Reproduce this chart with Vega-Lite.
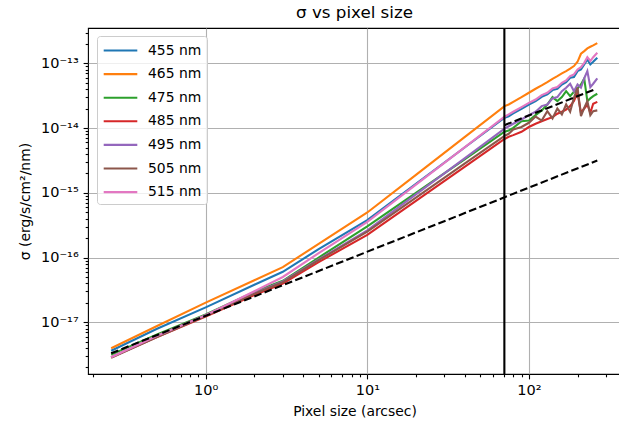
{
"$schema": "https://vega.github.io/schema/vega-lite/v6.json",
"width": 533, "height": 346,
"autosize": {"type": "none"},
"padding": {"left": 88, "top": 28, "right": 0, "bottom": 57},
"background": "white",
"title": {"text": "σ vs pixel size", "font": "DejaVu Sans", "fontSize": 16.7, "fontWeight": "normal", "color": "black", "anchor": "middle", "offset": 3},
"config": {
  "view": {"stroke": "black", "strokeWidth": 1.1},
  "axis": {"domain": false, "tickColor": "black", "tickWidth": 1.1, "gridColor": "#b0b0b0", "gridWidth": 1.1,
    "labelFont": "DejaVu Sans", "labelFontSize": 14.5, "labelColor": "black", "labelPadding": 4.9, "labelOverlap": false, "labelFlush": false,
    "titleFont": "DejaVu Sans", "titleFontSize": 13.9, "titleFontWeight": "normal", "titleColor": "black"}
},
"datasets": {
"curves": [
{"band":"455 nm","px":0.26,"sigma":3.63e-18},{"band":"455 nm","px":0.5,"sigma":7.94e-18},{"band":"455 nm","px":1,"sigma":1.70e-17},{"band":"455 nm","px":2,"sigma":3.80e-17},{"band":"455 nm","px":3,"sigma":6.03e-17},{"band":"455 nm","px":5,"sigma":1.35e-16},{"band":"455 nm","px":10,"sigma":3.80e-16},{"band":"455 nm","px":20,"sigma":1.38e-15},{"band":"455 nm","px":40,"sigma":5.02e-15},{"band":"455 nm","px":70.7,"sigma":1.45e-14},
{"band":"455 nm","px":75,"sigma":1.53e-14},{"band":"455 nm","px":80,"sigma":1.69e-14},{"band":"455 nm","px":90,"sigma":1.99e-14},{"band":"455 nm","px":100,"sigma":2.32e-14},{"band":"455 nm","px":110,"sigma":2.62e-14},{"band":"455 nm","px":120,"sigma":3.05e-14},{"band":"455 nm","px":130,"sigma":3.32e-14},{"band":"455 nm","px":140,"sigma":3.87e-14},{"band":"455 nm","px":150,"sigma":4.06e-14},{"band":"455 nm","px":160,"sigma":4.73e-14},{"band":"455 nm","px":170,"sigma":5.14e-14},{"band":"455 nm","px":180,"sigma":6.00e-14},{"band":"455 nm","px":190,"sigma":6.15e-14},{"band":"455 nm","px":200,"sigma":7.61e-14},{"band":"455 nm","px":210,"sigma":8.08e-14},{"band":"455 nm","px":220,"sigma":9.65e-14},{"band":"455 nm","px":230,"sigma":1.15e-13},{"band":"455 nm","px":240,"sigma":9.65e-14},{"band":"455 nm","px":250,"sigma":1.06e-13},{"band":"455 nm","px":265,"sigma":1.22e-13},

{"band":"465 nm","px":0.26,"sigma":3.96e-18},{"band":"465 nm","px":0.5,"sigma":8.77e-18},{"band":"465 nm","px":1,"sigma":2.01e-17},{"band":"465 nm","px":2,"sigma":4.46e-17},{"band":"465 nm","px":3,"sigma":7.10e-17},{"band":"465 nm","px":5,"sigma":1.63e-16},{"band":"465 nm","px":10,"sigma":4.97e-16},{"band":"465 nm","px":20,"sigma":1.90e-15},{"band":"465 nm","px":40,"sigma":7.28e-15},{"band":"465 nm","px":70.7,"sigma":2.19e-14},
{"band":"465 nm","px":75,"sigma":2.32e-14},{"band":"465 nm","px":80,"sigma":2.55e-14},{"band":"465 nm","px":90,"sigma":3.01e-14},{"band":"465 nm","px":100,"sigma":3.52e-14},{"band":"465 nm","px":110,"sigma":4.06e-14},{"band":"465 nm","px":120,"sigma":4.57e-14},{"band":"465 nm","px":130,"sigma":5.14e-14},{"band":"465 nm","px":140,"sigma":5.79e-14},{"band":"465 nm","px":150,"sigma":6.37e-14},{"band":"465 nm","px":160,"sigma":7.00e-14},{"band":"465 nm","px":170,"sigma":7.60e-14},{"band":"465 nm","px":180,"sigma":8.28e-14},{"band":"465 nm","px":190,"sigma":9.10e-14},{"band":"465 nm","px":200,"sigma":1.06e-13},{"band":"465 nm","px":210,"sigma":1.41e-13},{"band":"465 nm","px":220,"sigma":1.55e-13},{"band":"465 nm","px":230,"sigma":1.71e-13},{"band":"465 nm","px":240,"sigma":1.81e-13},{"band":"465 nm","px":250,"sigma":1.90e-13},{"band":"465 nm","px":265,"sigma":2.06e-13},

{"band":"475 nm","px":0.26,"sigma":3.16e-18},{"band":"475 nm","px":0.5,"sigma":6.46e-18},{"band":"475 nm","px":1,"sigma":1.32e-17},{"band":"475 nm","px":2,"sigma":2.95e-17},{"band":"475 nm","px":3,"sigma":4.37e-17},{"band":"475 nm","px":5,"sigma":1.00e-16},{"band":"475 nm","px":10,"sigma":3.02e-16},{"band":"475 nm","px":20,"sigma":9.98e-16},{"band":"475 nm","px":40,"sigma":3.30e-15},{"band":"475 nm","px":70.7,"sigma":8.8e-15},
{"band":"475 nm","px":75,"sigma":9.20e-15},{"band":"475 nm","px":80,"sigma":1.01e-14},{"band":"475 nm","px":90,"sigma":1.28e-14},{"band":"475 nm","px":100,"sigma":1.31e-14},{"band":"475 nm","px":110,"sigma":1.59e-14},{"band":"475 nm","px":120,"sigma":1.88e-14},{"band":"475 nm","px":130,"sigma":2.32e-14},{"band":"475 nm","px":140,"sigma":3.02e-14},{"band":"475 nm","px":150,"sigma":2.62e-14},{"band":"475 nm","px":160,"sigma":3.02e-14},{"band":"475 nm","px":170,"sigma":3.73e-14},{"band":"475 nm","px":180,"sigma":3.13e-14},{"band":"475 nm","px":190,"sigma":3.65e-14},{"band":"475 nm","px":200,"sigma":4.10e-14},{"band":"475 nm","px":210,"sigma":4.73e-14},{"band":"475 nm","px":220,"sigma":5.86e-14},{"band":"475 nm","px":230,"sigma":2.62e-14},{"band":"475 nm","px":240,"sigma":2.88e-14},{"band":"475 nm","px":250,"sigma":3.13e-14},{"band":"475 nm","px":265,"sigma":3.40e-14},

{"band":"485 nm","px":0.26,"sigma":2.88e-18},{"band":"485 nm","px":0.5,"sigma":5.89e-18},{"band":"485 nm","px":1,"sigma":1.23e-17},{"band":"485 nm","px":2,"sigma":2.63e-17},{"band":"485 nm","px":3,"sigma":3.98e-17},{"band":"485 nm","px":5,"sigma":8.51e-17},{"band":"485 nm","px":10,"sigma":2.24e-16},{"band":"485 nm","px":20,"sigma":7.52e-16},{"band":"485 nm","px":40,"sigma":2.52e-15},{"band":"485 nm","px":70.7,"sigma":6.8e-15},
{"band":"485 nm","px":75,"sigma":7.35e-15},{"band":"485 nm","px":80,"sigma":7.80e-15},{"band":"485 nm","px":90,"sigma":8.77e-15},{"band":"485 nm","px":100,"sigma":1.04e-14},{"band":"485 nm","px":110,"sigma":1.17e-14},{"band":"485 nm","px":120,"sigma":1.28e-14},{"band":"485 nm","px":130,"sigma":1.38e-14},{"band":"485 nm","px":140,"sigma":1.48e-14},{"band":"485 nm","px":150,"sigma":1.67e-14},{"band":"485 nm","px":160,"sigma":1.79e-14},{"band":"485 nm","px":170,"sigma":1.94e-14},{"band":"485 nm","px":180,"sigma":2.19e-14},{"band":"485 nm","px":190,"sigma":2.62e-14},{"band":"485 nm","px":200,"sigma":3.52e-14},{"band":"485 nm","px":210,"sigma":1.73e-14},{"band":"485 nm","px":220,"sigma":2.01e-14},{"band":"485 nm","px":230,"sigma":2.32e-14},{"band":"485 nm","px":240,"sigma":1.73e-14},{"band":"485 nm","px":250,"sigma":2.38e-14},{"band":"485 nm","px":265,"sigma":2.55e-14},

{"band":"495 nm","px":0.26,"sigma":2.88e-18},{"band":"495 nm","px":0.5,"sigma":6.03e-18},{"band":"495 nm","px":1,"sigma":1.29e-17},{"band":"495 nm","px":2,"sigma":2.82e-17},{"band":"495 nm","px":3,"sigma":4.27e-17},{"band":"495 nm","px":5,"sigma":9.33e-17},{"band":"495 nm","px":10,"sigma":2.63e-16},{"band":"495 nm","px":20,"sigma":9.48e-16},{"band":"495 nm","px":40,"sigma":3.42e-15},{"band":"495 nm","px":70.7,"sigma":9.8e-15},
{"band":"495 nm","px":75,"sigma":1.07e-14},{"band":"495 nm","px":80,"sigma":1.17e-14},{"band":"495 nm","px":90,"sigma":1.36e-14},{"band":"495 nm","px":100,"sigma":1.59e-14},{"band":"495 nm","px":110,"sigma":1.79e-14},{"band":"495 nm","px":120,"sigma":2.19e-14},{"band":"495 nm","px":130,"sigma":2.32e-14},{"band":"495 nm","px":140,"sigma":2.88e-14},{"band":"495 nm","px":150,"sigma":3.02e-14},{"band":"495 nm","px":160,"sigma":3.73e-14},{"band":"495 nm","px":170,"sigma":4.21e-14},{"band":"495 nm","px":180,"sigma":4.85e-14},{"band":"495 nm","px":190,"sigma":3.73e-14},{"band":"495 nm","px":200,"sigma":4.73e-14},{"band":"495 nm","px":210,"sigma":4.21e-14},{"band":"495 nm","px":220,"sigma":5.86e-14},{"band":"495 nm","px":230,"sigma":7.61e-14},{"band":"495 nm","px":240,"sigma":4.31e-14},{"band":"495 nm","px":250,"sigma":4.85e-14},{"band":"495 nm","px":265,"sigma":5.86e-14},

{"band":"505 nm","px":0.26,"sigma":2.82e-18},{"band":"505 nm","px":0.5,"sigma":5.89e-18},{"band":"505 nm","px":1,"sigma":1.26e-17},{"band":"505 nm","px":2,"sigma":2.75e-17},{"band":"505 nm","px":3,"sigma":4.17e-17},{"band":"505 nm","px":5,"sigma":9.12e-17},{"band":"505 nm","px":10,"sigma":2.51e-16},{"band":"505 nm","px":20,"sigma":8.41e-16},{"band":"505 nm","px":40,"sigma":2.82e-15},{"band":"505 nm","px":70.7,"sigma":7.6e-15},
{"band":"505 nm","px":75,"sigma":8.17e-15},{"band":"505 nm","px":80,"sigma":9.54e-15},{"band":"505 nm","px":90,"sigma":1.04e-14},{"band":"505 nm","px":100,"sigma":1.21e-14},{"band":"505 nm","px":110,"sigma":1.51e-14},{"band":"505 nm","px":120,"sigma":1.31e-14},{"band":"505 nm","px":130,"sigma":1.83e-14},{"band":"505 nm","px":140,"sigma":1.41e-14},{"band":"505 nm","px":150,"sigma":2.01e-14},{"band":"505 nm","px":160,"sigma":1.63e-14},{"band":"505 nm","px":170,"sigma":2.32e-14},{"band":"505 nm","px":180,"sigma":1.79e-14},{"band":"505 nm","px":190,"sigma":2.94e-14},{"band":"505 nm","px":200,"sigma":4.21e-14},{"band":"505 nm","px":210,"sigma":1.53e-14},{"band":"505 nm","px":220,"sigma":2.06e-14},{"band":"505 nm","px":230,"sigma":2.62e-14},{"band":"505 nm","px":240,"sigma":1.59e-14},{"band":"505 nm","px":250,"sigma":1.83e-14},{"band":"505 nm","px":265,"sigma":1.88e-14},

{"band":"515 nm","px":0.26,"sigma":2.88e-18},{"band":"515 nm","px":0.5,"sigma":6.17e-18},{"band":"515 nm","px":1,"sigma":1.29e-17},{"band":"515 nm","px":2,"sigma":3.02e-17},{"band":"515 nm","px":3,"sigma":5.01e-17},{"band":"515 nm","px":5,"sigma":1.17e-16},{"band":"515 nm","px":10,"sigma":3.55e-16},{"band":"515 nm","px":20,"sigma":1.34e-15},{"band":"515 nm","px":40,"sigma":5.05e-15},{"band":"515 nm","px":70.7,"sigma":1.50e-14},
{"band":"515 nm","px":75,"sigma":1.63e-14},{"band":"515 nm","px":80,"sigma":1.79e-14},{"band":"515 nm","px":90,"sigma":2.11e-14},{"band":"515 nm","px":100,"sigma":2.46e-14},{"band":"515 nm","px":110,"sigma":2.77e-14},{"band":"515 nm","px":120,"sigma":3.24e-14},{"band":"515 nm","px":130,"sigma":3.52e-14},{"band":"515 nm","px":140,"sigma":4.10e-14},{"band":"515 nm","px":150,"sigma":4.31e-14},{"band":"515 nm","px":160,"sigma":5.02e-14},{"band":"515 nm","px":170,"sigma":5.46e-14},{"band":"515 nm","px":180,"sigma":6.37e-14},{"band":"515 nm","px":190,"sigma":6.76e-14},{"band":"515 nm","px":200,"sigma":8.08e-14},{"band":"515 nm","px":210,"sigma":8.77e-14},{"band":"515 nm","px":220,"sigma":1.02e-13},{"band":"515 nm","px":230,"sigma":1.25e-13},{"band":"515 nm","px":240,"sigma":1.09e-13},{"band":"515 nm","px":250,"sigma":1.25e-13},{"band":"515 nm","px":265,"sigma":1.46e-13}
],
"dashes": [
{"line":"a","px":0.26,"sigma":3.32e-18},{"line":"a","px":265,"sigma":3.16e-15},
{"line":"b","px":70.5,"sigma":1.11e-14},{"line":"b","px":255,"sigma":3.96e-14}
],
"vline": [{"px":70.5}]
},
"layer": [
{
 "data": {"name": "curves"},
 "mark": {"type": "line", "strokeWidth": 2.1, "clip": true},
 "encoding": {
  "x": {"field": "px", "type": "quantitative",
    "scale": {"type": "log", "domain": [0.1869, 371.5], "nice": false, "zero": false},
    "axis": {"title": "Pixel size (arcsec)", "titlePadding": 7,
      "values": [0.2,0.3,0.4,0.5,0.6,0.7,0.8,0.9,1,2,3,4,5,6,7,8,9,10,20,30,40,50,60,70,80,90,100,200,300],
      "labelExpr": "datum.value == 1 ? '10⁰' : datum.value == 10 ? '10¹' : datum.value == 100 ? '10²' : ''",
      "grid": true,
      "tickSize": {"condition": {"test": "indexof([1,10,100], datum.value) >= 0", "value": 4.9}, "value": 2.8},
      "gridOpacity": {"condition": {"test": "indexof([1,10,100], datum.value) >= 0", "value": 1}, "value": 0}}},
  "y": {"field": "sigma", "type": "quantitative",
    "scale": {"type": "log", "domain": [1.586e-18, 3.528e-13], "nice": false, "zero": false},
    "axis": {"title": "σ (erg/s/cm²/nm)", "titlePadding": 8,
      "values": [2e-18,3e-18,4e-18,5e-18,6e-18,7e-18,8e-18,9e-18,1e-17,2e-17,3e-17,4e-17,5e-17,6e-17,7e-17,8e-17,9e-17,1e-16,2e-16,3e-16,4e-16,5e-16,6e-16,7e-16,8e-16,9e-16,1e-15,2e-15,3e-15,4e-15,5e-15,6e-15,7e-15,8e-15,9e-15,1e-14,2e-14,3e-14,4e-14,5e-14,6e-14,7e-14,8e-14,9e-14,1e-13,2e-13,3e-13],
      "labelExpr": "datum.value == 1e-13 ? '10⁻¹³' : datum.value == 1e-14 ? '10⁻¹⁴' : datum.value == 1e-15 ? '10⁻¹⁵' : datum.value == 1e-16 ? '10⁻¹⁶' : datum.value == 1e-17 ? '10⁻¹⁷' : ''",
      "grid": true,
      "tickSize": {"condition": {"test": "indexof([1e-13,1e-14,1e-15,1e-16,1e-17], datum.value) >= 0", "value": 4.9}, "value": 2.8},
      "gridOpacity": {"condition": {"test": "indexof([1e-13,1e-14,1e-15,1e-16,1e-17], datum.value) >= 0", "value": 1}, "value": 0}}},
  "color": {"field": "band", "type": "nominal",
    "scale": {"domain": ["455 nm","465 nm","475 nm","485 nm","495 nm","505 nm","515 nm"], "range": ["#1f77b4","#ff7f0e","#2ca02c","#d62728","#9467bd","#8c564b","#e377c2"]},
    "legend": {"orient": "none", "legendX": 9, "legendY": 8, "title": null,
      "fillColor": "rgba(255,255,255,0.8)", "strokeColor": "#cccccc", "cornerRadius": 3, "padding": 5,
      "symbolType": "M-2.1,0H2.1", "symbolSize": 256, "symbolStrokeWidth": 2.1, "symbolOffset": 9,
      "labelOffset": 18, "labelFont": "DejaVu Sans", "labelFontSize": 13.9, "labelColor": "black", "rowPadding": 6.6, "labelLimit": 200}}
 }
},
{
 "data": {"name": "dashes"},
 "mark": {"type": "line", "color": "black", "strokeWidth": 2.1, "strokeDash": [7.7, 3.3]},
 "encoding": {
  "x": {"field": "px", "type": "quantitative", "scale": {"type": "log", "domain": [0.1869, 371.5], "nice": false, "zero": false}, "axis": {"title": "Pixel size (arcsec)"}},
  "y": {"field": "sigma", "type": "quantitative", "scale": {"type": "log", "domain": [1.586e-18, 3.528e-13], "nice": false, "zero": false}, "axis": {"title": "σ (erg/s/cm²/nm)"}},
  "detail": {"field": "line", "type": "nominal"}
 }
},
{
 "data": {"name": "vline"},
 "mark": {"type": "rule", "color": "black", "strokeWidth": 2.1},
 "encoding": {
  "x": {"field": "px", "type": "quantitative", "scale": {"type": "log", "domain": [0.1869, 371.5], "nice": false, "zero": false}, "axis": {"title": "Pixel size (arcsec)"}}
 }
}
]
}
